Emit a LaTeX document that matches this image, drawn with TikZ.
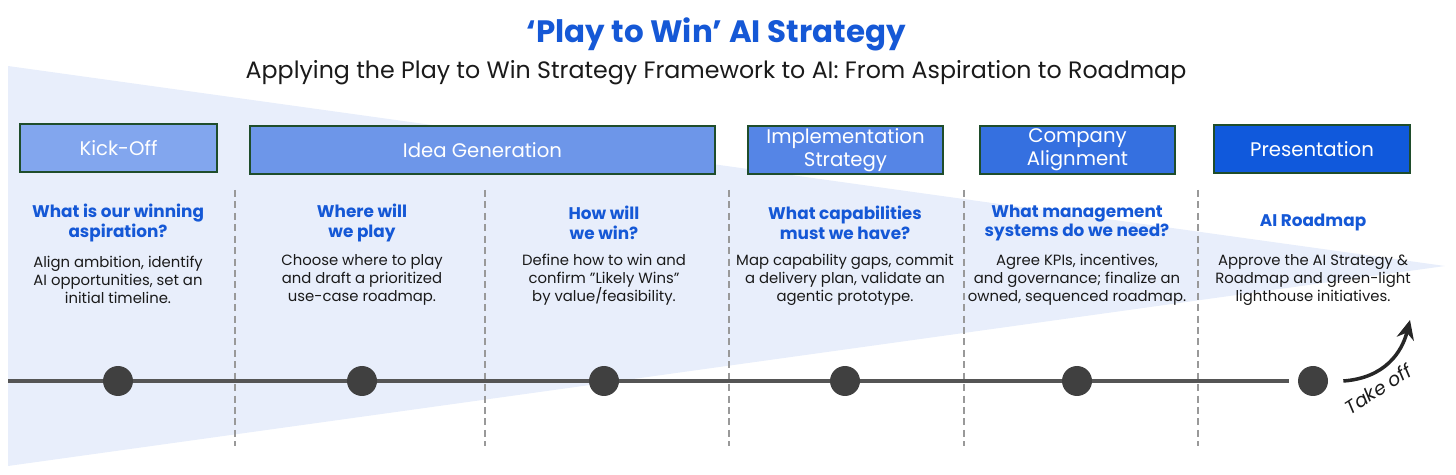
\documentclass[tikz,border=0pt]{standalone}
\usepackage{fontspec}
\setmainfont{Poppins}
\usepackage{tikz}
\usetikzlibrary{arrows.meta, positioning, calc}
\definecolor{ttl}{HTML}{1558D6}
\definecolor{tri}{HTML}{E8EEFB}
\definecolor{dotc}{HTML}{404040}
\definecolor{trk}{HTML}{555555}
\definecolor{edg}{HTML}{1F4D2B}
\definecolor{txt}{HTML}{1A1A1A}
\definecolor{phA}{HTML}{82A6EE}
\definecolor{phB}{HTML}{6D96E9}
\definecolor{phC}{HTML}{5585E6}
\definecolor{phD}{HTML}{3570E0}
\definecolor{phE}{HTML}{1059DC}

\tikzset{
  phase/.style={draw=edg, line width=0.7pt, text=white, align=center,
    minimum height=0.96cm, inner sep=0pt,
    font=\fontsize{11.2}{13}\selectfont},
  quest/.style={text=ttl, align=center, font=\bfseries\fontsize{9.6}{11.3}\selectfont},
  descr/.style={text=txt, align=center, font=\fontsize{8.45}{10.2}\selectfont},
  sep/.style={draw=black!40, line width=0.6pt, dash pattern=on 4pt off 2.5pt},
  dot/.style={circle, fill=dotc, minimum size=0.6cm, inner sep=0pt}
}

\begin{document}
\begin{tikzpicture}[>=Stealth, x=0.02cm, y=-0.02cm]
    \useasboundingbox (0,0) rectangle (1456,475);
    % widening triangle behind everything
    \fill[tri] (8,66) -- (1445,266) -- (8,466) -- cycle;

    \node[ttl, font=\bfseries\fontsize{17.6}{20}\selectfont]
      (title) at (716,34) {‘Play to Win’ AI Strategy};
    \node[txt, font=\fontsize{13.5}{16}\selectfont]
      (sub) at (716,73) {Applying the Play to Win Strategy Framework to AI: From Aspiration to Roadmap};

    % phase boxes
    \node[phase, fill=phA, minimum width=3.94cm] (kick) at (118.5,148) {Kick-Off};
    \node[phase, fill=phB, minimum width=9.3cm]  (idea) at (482.5,150) {Idea Generation};
    \node[phase, fill=phC, minimum width=3.9cm]  (impl) at (845.5,150) {Implementation\\Strategy};
    \node[phase, fill=phD, minimum width=3.9cm]  (comp) at (1077.5,150) {Company\\Alignment};
    \node[phase, fill=phE, minimum width=3.92cm] (pres) at (1312,149) {Presentation};

    \foreach \x in {235,485,729,964,1198}
      \draw[sep] (\x,190) -- (\x,446);

    % columns
    \foreach \x/\q/\d [count=\i] in {
      118/{What is our winning\\aspiration?}/{Align ambition, identify\\AI opportunities, set an\\initial timeline.},
      362/{Where will\\we play}/{Choose where to play\\and draft a prioritized\\use-case roadmap.},
      604/{How will\\we win?}/{Define how to win and\\confirm "Likely Wins"\\by value/feasibility.},
      845/{What capabilities\\must we have?}/{Map capability gaps, commit\\a delivery plan, validate an\\agentic prototype.},
      1077/{What management\\systems do we need?}/{Agree KPIs, incentives,\\and governance; finalize an\\owned, sequenced roadmap.},
      1313/{AI Roadmap}/{Approve the AI Strategy \&\\Roadmap and green-light\\lighthouse initiatives.}}{
      \node[quest] (q\i) at (\x,223) {\q};
      \node[descr] (t\i) at (\x,280) {\d};
    }

    % timeline
    \coordinate (tl0) at (8,381);
    \coordinate (tl1) at (1289,381);
    \draw[trk, line width=2.6pt] (tl0) -- (tl1);
    \foreach \x [count=\i] in {118,362,604,845,1077,1313}
      \node[dot] (d\i) at (\x,381) {};

    % take off
    \coordinate (lift) at (1410,320);
    \draw[-{Stealth[length=11pt, width=10pt]}, black!85, line width=2pt]
      ([xshift=0.3cm]d6.east) .. controls (1385,378) and (1402,352) .. (lift);
    \node[txt, rotate=33, font=\itshape\fontsize{10.8}{12}\selectfont]
      (tko) at (1378,389) {Take off};
  \end{tikzpicture}
\end{document}
